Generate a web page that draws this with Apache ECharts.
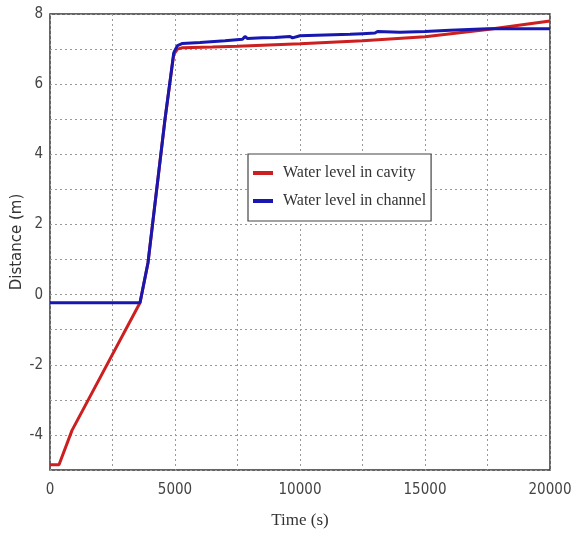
<!DOCTYPE html>
<html>
<head>
<meta charset="utf-8">
<script src="https://cdn.jsdelivr.net/npm/echarts@6/dist/echarts.min.js"></script>
<style>html,body{margin:0;padding:0;background:#fff;}#c{width:571px;height:535px;}</style>
</head>
<body>
<div id="c"></div>
<script>
var seriesNames = ['Water level in cavity', 'Water level in channel'];
var cavityTime = [0, 360, 880, 3600, 3920, 4600, 4950, 5100, 5300, 6500, 7500, 10000, 12500, 15000, 17500, 20000];
var cavityLevel = [-4.85, -4.85, -3.87, -0.23, 0.91, 5.0, 6.85, 7.0, 7.04, 7.06, 7.08, 7.15, 7.24, 7.35, 7.56, 7.8];
var channelTime = [0, 3600, 3920, 4600, 4950, 5100, 5300, 6000, 7000, 7700, 7800, 7900, 8500, 9000, 9600, 9700, 10000, 11000, 12000, 12500, 13000, 13100, 14000, 15000, 16000, 17500, 18500, 20000];
var channelLevel = [-0.23, -0.23, 0.91, 5.0, 6.9, 7.1, 7.16, 7.19, 7.24, 7.28, 7.36, 7.3, 7.32, 7.33, 7.36, 7.32, 7.38, 7.4, 7.42, 7.44, 7.46, 7.5, 7.48, 7.5, 7.54, 7.58, 7.58, 7.58];
var xTicks = [0, 5000, 10000, 15000, 20000];
var yTicks = [-4, -2, 0, 2, 4, 6, 8];

function pairs(t, v) { return t.map(function (x, i) { return [x, v[i]]; }); }

var chart = echarts.init(document.getElementById('c'));
var serif = '"Liberation Serif", "DejaVu Serif", serif';
var narrow = '"DejaVu Sans Condensed", "DejaVu Sans", sans-serif';
chart.setOption({
  animation: false,
  backgroundColor: '#fff',
  grid: { left: 50, right: 21, top: 14, bottom: 65, outerBoundsMode: 'none', containLabel: false,
    show: true, borderColor: '#333', borderWidth: 1.5, backgroundColor: 'transparent' },
  legend: {
    data: seriesNames,
    orient: 'vertical',
    left: 248, top: 154,
    backgroundColor: '#fff',
    borderColor: '#444', borderWidth: 1.2, borderRadius: 0,
    padding: [11, 5, 12, 5],
    itemGap: 12,
    itemWidth: 20, itemHeight: 4,
    icon: 'rect',
    textStyle: { fontFamily: serif, fontSize: 16, color: '#333', padding: [0, 0, 0, 5] }
  },
  xAxis: {
    type: 'value', min: 0, max: 20000, interval: 2500,
    name: 'Time (s)', nameLocation: 'middle', nameGap: 42, nameMoveOverlap: false,
    nameTextStyle: { fontFamily: serif, fontSize: 17, color: '#333' },
    axisLine: { show: false }, axisTick: { show: false },
    axisLabel: { margin: 13, fontSize: 15, color: '#444', fontFamily: narrow,
      formatter: function (v) { return xTicks.indexOf(v) >= 0 ? String(v) : ''; } },
    splitLine: { show: true, lineStyle: { color: '#999', type: [2, 3], width: 1 } }
  },
  yAxis: {
    type: 'value', min: -5, max: 8, interval: 1,
    name: 'Distance (m)', nameLocation: 'middle', nameGap: 25, nameRotate: 90, nameMoveOverlap: false,
    nameTextStyle: { fontFamily: '"DejaVu Sans", sans-serif', fontSize: 15, color: '#333' },
    axisLine: { show: false }, axisTick: { show: false },
    axisLabel: { margin: 7, fontSize: 15, color: '#444', fontFamily: narrow,
      formatter: function (v) { return yTicks.indexOf(v) >= 0 ? String(v) : ''; } },
    splitLine: { show: true, lineStyle: { color: '#999', type: [2, 3], width: 1 } }
  },
  series: [
    { name: seriesNames[0], type: 'line', data: pairs(cavityTime, cavityLevel), showSymbol: false, symbol: 'none',
      color: '#cc1f1f', lineStyle: { width: 3, color: '#cc1f1f' }, z: 2 },
    { name: seriesNames[1], type: 'line', data: pairs(channelTime, channelLevel), showSymbol: false, symbol: 'none',
      color: '#1818b0', lineStyle: { width: 3, color: '#1818b0' }, z: 3 }
  ]
});
</script>
</body>
</html>
